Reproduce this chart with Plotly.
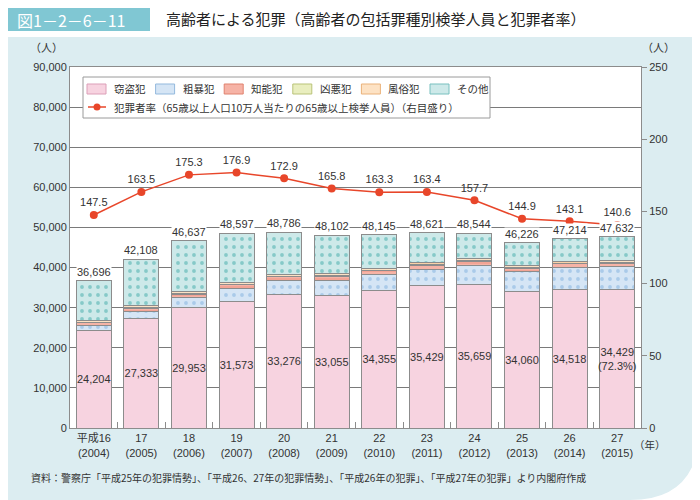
import plotly.graph_objects as go

# 年次（x軸ラベル）
years = ["平成16<br>(2004)", "17<br>(2005)", "18<br>(2006)", "19<br>(2007)", "20<br>(2008)",
         "21<br>(2009)", "22<br>(2010)", "23<br>(2011)", "24<br>(2012)", "25<br>(2013)",
         "26<br>(2014)", "27<br>(2015)"]

# 包括罪種別 検挙人員（人）
theft = [24204, 27333, 29953, 31573, 33276, 33055, 34355, 35429, 35659, 34060, 34518, 34429]
violent = [1300, 1700, 2500, 3100, 3400, 3700, 3800, 4200, 4900, 4900, 5500, 5800]
intellectual = [700, 800, 900, 1000, 1000, 1000, 1000, 900, 900, 900, 900, 900]
heinous = [200, 200, 200, 200, 200, 200, 200, 200, 200, 200, 200, 200]
moral = [400, 400, 400, 500, 500, 500, 500, 500, 600, 400, 400, 400]
totals = [36696, 42108, 46637, 48597, 48786, 48102, 48145, 48621, 48544, 46226, 47214, 47632]
others = [t - a - b - c - d - e for t, a, b, c, d, e in zip(totals, theft, violent, intellectual, heinous, moral)]

# 犯罪者率（65歳以上人口10万人当たり）
rate = [147.5, 163.5, 175.3, 176.9, 172.9, 165.8, 163.3, 163.4, 157.7, 144.9, 143.1, 140.6]
rate_name = "犯罪者率（65歳以上人口10万人当たりの65歳以上検挙人員）（右目盛り）"

theft_labels = [f"{v:,}" for v in theft]
theft_labels[-1] = theft_labels[-1] + "<br>(72.3%)"

FONT = "Liberation Sans, Noto Sans CJK JP"
JP = "Noto Sans CJK JP"
RED = "#e8462a"
# page has an 8px body margin, so the figure is 692x492 placed at (8, 8)
OFF = 8
W, H = 700 - OFF, 500 - OFF
L, R, T, B = 70 - OFF, 59, 67 - OFF, 72
PW, PH = W - L - R, H - T - B


# screen pixel -> paper coords
def px2x(px):
    return (px - OFF - L) / PW


def px2y(py):
    return 1 - (py - OFF - T) / PH


def note(text, x, y, size=11, color="#333333", anchor="center", family=JP):
    return dict(text=text, x=px2x(x), y=px2y(y), xref="paper", yref="paper", showarrow=False,
                xanchor=anchor, yanchor="middle", font=dict(size=size, color=color, family=family))


fig = go.Figure()

# name, values, fill, pattern colour, pattern shape, legend swatch border
series = [
    ("窃盗犯", theft, "#f7d3e0", "#f7d3e0", "", "#dc9fb8"),
    ("粗暴犯", violent, "#d5e5f5", "#7fb0dd", ".", "#93b9dd"),
    ("知能犯", intellectual, "#f6b3a6", "#ec8a76", "-", "#e0826f"),
    ("凶悪犯", heinous, "#e9eebf", "#a9b75d", ".", "#b9c378"),
    ("風俗犯", moral, "#fde2c4", "#f4b774", "-", "#eab27a"),
    ("その他", others, "#cde9e9", "#3fa9a7", ".", "#78c0bf"),
]

for name, vals, bg, fg, shape, _ in series:
    fig.add_trace(go.Bar(
        name=name, x=years, y=vals, showlegend=False,
        marker=dict(color=bg, line=dict(color="#8c8c8c", width=1),
                    pattern=dict(shape=shape, fgcolor=fg, bgcolor=bg, size=8, solidity=0.18)),
        text=theft_labels if name == "窃盗犯" else None,
        textposition="inside" if name == "窃盗犯" else "none",
        insidetextanchor="middle", constraintext="none", textangle=0,
        textfont=dict(size=11, color="#333333", family=FONT),
        hoverinfo="skip",
    ))

fig.add_trace(go.Scatter(
    name=rate_name, x=years, y=rate, yaxis="y2", mode="lines+markers+text", showlegend=False,
    line=dict(color=RED, width=1.5),
    marker=dict(color=RED, size=8),
    text=[f"{v:.1f}" for v in rate], textposition="top center",
    textfont=dict(size=11, color="#333333", family=FONT),
))

shapes = [
    # header band
    dict(type="rect", xref="paper", yref="paper", x0=px2x(0), x1=px2x(700), y0=px2y(37), y1=px2y(0),
         fillcolor="white", line=dict(width=0), layer="below"),
    dict(type="rect", xref="paper", yref="paper", x0=px2x(0), x1=px2x(150), y0=px2y(31), y1=px2y(0),
         fillcolor="#80c7d3", line=dict(width=0), layer="below"),
    # rounded bottom-right corner
    dict(type="path", xref="paper", yref="paper",
         path=f"M {px2x(700)},{px2y(425)} Q {px2x(700)},{px2y(500)} {px2x(630)},{px2y(500)} "
              f"L {px2x(700)},{px2y(500)} Z",
         fillcolor="white", line=dict(width=0), layer="below"),
    # legend box
    dict(type="rect", xref="paper", yref="paper", x0=px2x(83), x1=px2x(490), y0=px2y(118), y1=px2y(77),
         fillcolor="white", line=dict(color="#9a9a9a", width=1), layer="above"),
]

annotations = [
    note("図1－2－6－11", 15, 20, size=16, color="#ffffff", anchor="left"),
    note("高齢者による犯罪（高齢者の包括罪種別検挙人員と犯罪者率）", 164, 19, size=15,
         color="#222222", anchor="left"),
    note("（人）", 46, 47),
    note("（人）", 658, 47),
    note("（年）", 650, 444, size=10.5),
    note("資料：警察庁「平成25年の犯罪情勢」、「平成26、27年の犯罪情勢」、「平成26年の犯罪」、「平成27年の犯罪」より内閣府作成",
         29, 477, size=10, anchor="left"),
]

# 合計ラベル
for yr, tot in zip(years, totals):
    annotations.append(dict(x=yr, y=tot, text=f"{tot:,}", showarrow=False, yanchor="bottom",
                            yshift=2, bgcolor="white", borderpad=0,
                            font=dict(size=11, color="#333333", family=FONT)))

# 凡例（手描き）
for i, (name, _, bg, _, _, edge) in enumerate(series):
    x0 = 87 + i * 68.6
    shapes.append(dict(type="rect", xref="paper", yref="paper", x0=px2x(x0), x1=px2x(x0 + 19),
                       y0=px2y(94), y1=px2y(84), fillcolor=bg, line=dict(color=edge, width=1),
                       layer="above"))
    annotations.append(note(name, x0 + 25, 89, size=10.5, anchor="left"))
shapes.append(dict(type="line", xref="paper", yref="paper", x0=px2x(88), x1=px2x(106),
                   y0=px2y(107), y1=px2y(107), line=dict(color=RED, width=1.5), layer="above"))
shapes.append(dict(type="circle", xref="paper", yref="paper", x0=px2x(93.5), x1=px2x(100.5),
                   y0=px2y(110.5), y1=px2y(103.5), fillcolor=RED, line=dict(color=RED, width=0),
                   layer="above"))
annotations.append(note(rate_name, 112, 107, size=10.5, anchor="left"))

fig.update_layout(
    width=W, height=H,
    margin=dict(l=L, r=R, t=T, b=B),
    paper_bgcolor="#dcedf1", plot_bgcolor="white",
    font=dict(family=FONT, size=11, color="#333333"),
    barmode="stack", bargap=0.265,
    showlegend=False,
    xaxis=dict(range=[-0.5, len(years) - 0.5], showline=True, linecolor="#8c8c8c", mirror=True,
               ticks="inside", tickson="boundaries", ticklen=6, tickcolor="#8c8c8c",
               tickfont=dict(size=11)),
    yaxis=dict(range=[0, 90000], dtick=10000, tickformat=",", showgrid=True, gridcolor="#7a7a7a",
               gridwidth=1, showline=True, linecolor="#8c8c8c", mirror=True, zeroline=False,
               ticks="", tickfont=dict(size=11)),
    yaxis2=dict(range=[0, 250], dtick=50, overlaying="y", side="right", showgrid=False,
                zeroline=False, ticks="outside", ticklen=5, tickcolor="#8c8c8c",
                tickfont=dict(size=11)),
    shapes=shapes, annotations=annotations,
)

fig.write_html("out.html")
